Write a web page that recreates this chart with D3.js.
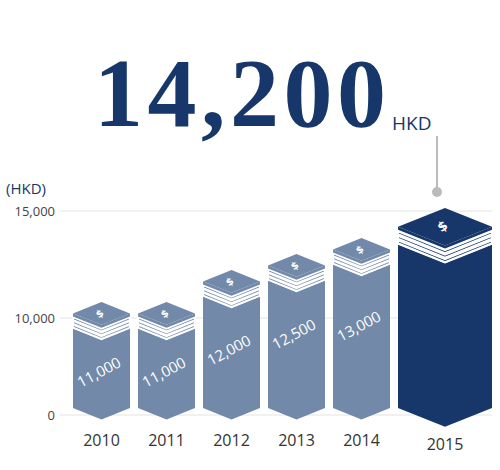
<!DOCTYPE html><html><head><meta charset="utf-8"><script src="https://cdn.jsdelivr.net/npm/d3@7"></script>
<style>body{margin:0;background:#fff}</style></head><body><svg id="c" width="500" height="470"></svg>
<script>
const years=["2010","2011","2012","2013","2014","2015"];
const values=[11000,11000,12000,12500,13000,14200];
const labels=["11,000","11,000","12,000","12,500","13,000",""];
const ticks=[0,10000,15000];
const tickLabels=["0","10,000","15,000"];
const svg=d3.select("#c");
const navy="#17376a", light="#7289a9";
const yAxis=d3.scaleLinear().domain([0,10000,15000]).range([415,318,211]);
const yBar=d3.scaleLinear().domain([11000,13000]).range([302,238]);
const x=d3.scaleLinear().domain([0,5]).range([73,398]);
const widths=years.map((y,i)=>i===5?94:57);
svg.selectAll(".g").data(ticks).join("line").attr("x1",60).attr("x2",492)
 .attr("y1",d=>yAxis(d)).attr("y2",d=>yAxis(d)).attr("stroke","#e3e3e3");
svg.selectAll(".tl").data(ticks).join("text").attr("x",55).attr("y",d=>yAxis(d)+5)
 .attr("text-anchor","end").attr("font-family","Open Sans, sans-serif").attr("font-size",13).attr("fill","#444")
 .text((d,i)=>tickLabels[i]);
svg.append("text").attr("x",6).attr("y",194).attr("font-family","Open Sans, sans-serif").attr("font-size",15).attr("fill",navy).text("(HKD)");
svg.append("text").attr("x",240).attr("y",126).attr("text-anchor","middle").attr("font-family","Liberation Serif, serif")
 .attr("font-weight","bold").attr("font-size",98).attr("fill",navy).attr("textLength",292).text("14,200");
svg.append("text").attr("x",392).attr("y",130).attr("font-family","Open Sans, sans-serif").attr("font-size",19).attr("fill",navy).text("HKD");
svg.append("line").attr("x1",437).attr("x2",437).attr("y1",136).attr("y2",190).attr("stroke","#bbb").attr("stroke-width",2);
svg.append("circle").attr("cx",437).attr("cy",192).attr("r",5).attr("fill","#bbb");
const base=408;
years.forEach((yr,i)=>{
 const x0=x(i), w=widths[i], x1=x0+w, xm=x0+w/2, d=w*0.2;
 const t=i===5?208:yBar(values[i]);
 const col=i===5?navy:light;
 const g=svg.append("g");
 const sh=i===5?18:15;
 g.append("path").attr("fill",col).attr("d",`M${x0},${t+d+sh}L${xm},${t+2*d+sh}L${x1},${t+d+sh}L${x1},${base}L${xm},${base+d}L${x0},${base}Z`);
 for(let k=3;k>=0;k--){
  const o=k*(sh/4);
  g.append("path").attr("fill",col).attr("stroke","#fff").attr("stroke-width",k===0?0:2)
   .attr("d",`M${x0},${t+d+o}L${xm},${t+2*d+o}L${x1},${t+d+o}L${x1},${t+d+o+3}L${xm},${t+2*d+o+3}L${x0},${t+d+o+3}Z`);
 }
 g.append("path").attr("fill",col).attr("d",`M${x0},${t+d}L${xm},${t}L${x1},${t+d}L${xm},${t+2*d}Z`);
 g.append("text").attr("transform",`translate(${xm},${t+d+3}) rotate(-35)`).attr("text-anchor","middle")
  .attr("font-family","DejaVu Sans, sans-serif").attr("font-weight","bold").attr("font-size",i===5?13:10).attr("fill","#fff").text("$");
 if(labels[i]) g.append("text").attr("transform",`translate(${xm},${(t+base)/2+ (i<2?22:i===2?16:8)}) rotate(-28)`)
  .attr("text-anchor","middle").attr("font-family","Open Sans, sans-serif").attr("font-size",15).attr("fill","#fff").text(labels[i]);
 svg.append("text").attr("x",xm).attr("y",i===5?450:446).attr("text-anchor","middle").attr("font-family","Open Sans, sans-serif")
  .attr("font-size",16).attr("fill","#333").text(yr);
});
</script></body></html>
